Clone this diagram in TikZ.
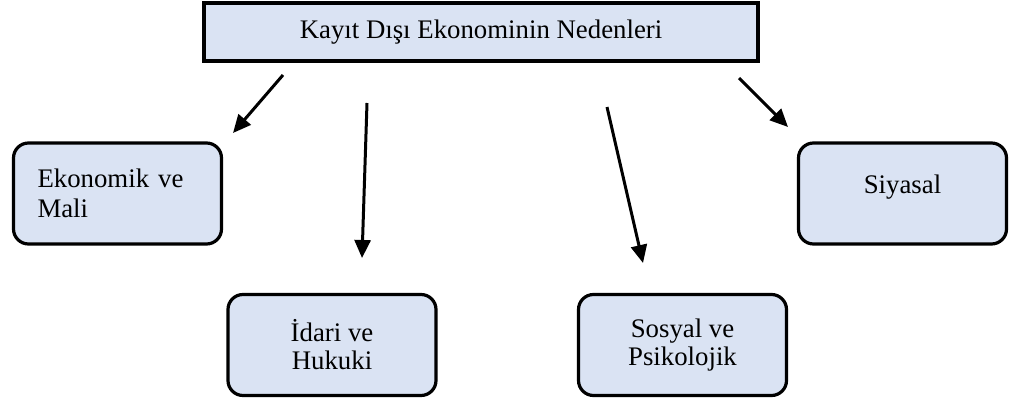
\documentclass[tikz,border=0pt]{standalone}
\usepackage{fontspec}
\setmainfont{Liberation Serif}
\usepackage{tikz}
\usetikzlibrary{arrows.meta}
\definecolor{kutumavi}{HTML}{DAE3F3}

\begin{document}
\begin{tikzpicture}[x=0.5pt,y=-0.5pt,
  baslik/.style={draw,fill=kutumavi,line width=1.9pt,minimum width=277pt,minimum height=29pt,font=\fontsize{13.4}{14}\selectfont},
  kutu/.style={draw,fill=kutumavi,line width=1.6pt,rounded corners=7.5pt,minimum width=104pt,minimum height=50.5pt,align=center,font=\fontsize{13.4}{14}\selectfont},
  ok/.style={line width=1.5pt,-{Triangle[length=9pt,width=8pt]}}]
\useasboundingbox (0,0) rectangle (1010,401);
\node[baslik] (ust) at (481,32) {Kayıt Dışı Ekonominin Nedenleri};
\node[kutu,text width=80pt,align=left,font=\fontsize{13.4}{15}\selectfont] (ekonomik) at (117.5,193.5) {Ekonomik ve\\Mali};
\node[kutu] (idari) at (332,345) {İdari ve\\Hukuki};
\node[kutu] (sosyal) at (682.5,345) {Sosyal ve\\Psikolojik};
\node[kutu,text height=7pt,text depth=7pt] (siyasal) at (902.5,193.5) {Siyasal};
% oklar
\coordinate (b1) at (283,75);
\coordinate (u1) at (233,133);
\coordinate (b2) at (367,103);
\coordinate (u2) at (362,258);
\coordinate (b3) at (607,107);
\coordinate (u3) at (643,263);
\coordinate (b4) at (739,78);
\coordinate (u4) at (788,127);
\draw[ok] (b1) -- (u1);
\draw[ok] (b2) -- (u2);
\draw[ok] (b3) -- (u3);
\draw[ok] (b4) -- (u4);
\end{tikzpicture}
\end{document}
